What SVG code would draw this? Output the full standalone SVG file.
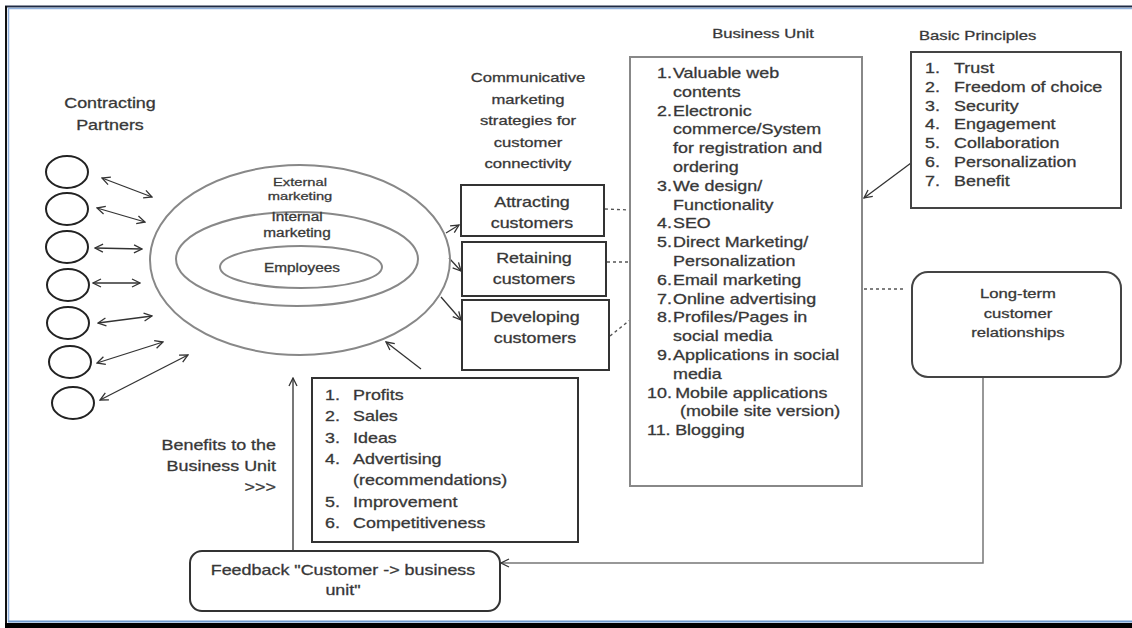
<svg xmlns="http://www.w3.org/2000/svg" width="1132" height="628" viewBox="0 0 1132 628">
<defs>
<marker id="ah" viewBox="0 0 10 10" refX="9" refY="5" markerWidth="10" markerHeight="10" markerUnits="userSpaceOnUse" orient="auto-start-reverse">
<path d="M1,1 L9,5 L1,9" fill="none" stroke="#333" stroke-width="1.3"/>
</marker>
<style>
text{font-family:"Liberation Sans",Arial,sans-serif;fill:#333;stroke:#444;stroke-width:0.3;}
.t14{font-size:14px;}
.t13{font-size:13px;}
.t12{font-size:12px;}
.t11{font-size:11.5px;}
.mid{text-anchor:middle;}
.end{text-anchor:end;}
.box{fill:#fff;stroke:#333;stroke-width:2;}
.gbox{fill:#fff;stroke:#888;stroke-width:2;}
.ell{fill:none;stroke:#888;stroke-width:2;}
.circ{fill:#fff;stroke:#222;stroke-width:2;}
.arr{fill:none;stroke:#333;stroke-width:1.3;marker-end:url(#ah);}
.darr{fill:none;stroke:#333;stroke-width:1.3;marker-start:url(#ah);marker-end:url(#ah);}
.garr{fill:none;stroke:#777;stroke-width:2;marker-end:url(#ah);}
.dash{fill:none;stroke:#555;stroke-width:1.3;stroke-dasharray:3 3;}
</style>
</defs>
<rect x="0" y="0" width="1132" height="628" fill="#fff"/>
<g id="frame">
<line x1="5" y1="6.5" x2="1132" y2="6.5" stroke="#1f2a44" stroke-width="2"/>
<line x1="8" y1="8.5" x2="1132" y2="8.5" stroke="#8fb0dc" stroke-width="1.5"/>
<line x1="6" y1="6" x2="6" y2="628" stroke="#111" stroke-width="2"/>
<line x1="8.5" y1="8" x2="8.5" y2="622" stroke="#8fb0dc" stroke-width="1.5"/>
<rect x="5" y="623" width="1127" height="5" fill="#000"/>
<line x1="8" y1="621.5" x2="1132" y2="621.5" stroke="#6f9bd0" stroke-width="2"/>
</g>
<g id="connectors">
<line class="darr" x1="102" y1="178" x2="152" y2="197"/>
<line class="darr" x1="97" y1="208" x2="145" y2="222"/>
<line class="darr" x1="95" y1="248" x2="142" y2="249"/>
<line class="darr" x1="93" y1="283" x2="140" y2="283"/>
<line class="darr" x1="98" y1="323" x2="152" y2="316"/>
<line class="darr" x1="97" y1="363" x2="163" y2="342"/>
<line class="darr" x1="100" y1="400" x2="188" y2="355"/>
<line class="arr" x1="446" y1="233" x2="459" y2="225"/>
<line class="arr" x1="449" y1="258" x2="461" y2="271"/>
<line class="arr" x1="441" y1="297" x2="461" y2="320"/>
<line class="dash" x1="605" y1="209" x2="630" y2="210"/>
<line class="dash" x1="607" y1="262" x2="630" y2="262"/>
<line class="dash" x1="610" y1="336" x2="630" y2="320"/>
<line class="dash" x1="864" y1="289" x2="903" y2="289"/>
<line class="arr" x1="911" y1="163" x2="864" y2="198"/>
<line class="arr" x1="421" y1="369" x2="386" y2="342"/>
<line class="garr" x1="293" y1="551" x2="293" y2="378"/>
<polyline class="garr" points="983,377 983,563 501,563" style="stroke-width:1.5"/>
</g>
<g id="partners-label">
<text class="t14 mid" transform="translate(110,108) scale(1.28,1)">Contracting</text>
<text class="t14 mid" transform="translate(110,130) scale(1.28,1)">Partners</text>
</g>
<g id="partners">
<ellipse class="circ" cx="67" cy="172" rx="21" ry="16"/>
<ellipse class="circ" cx="67" cy="209" rx="21" ry="16"/>
<ellipse class="circ" cx="67" cy="247" rx="21" ry="16"/>
<ellipse class="circ" cx="68" cy="285" rx="21" ry="16"/>
<ellipse class="circ" cx="68" cy="323" rx="21" ry="16"/>
<ellipse class="circ" cx="70" cy="362" rx="21" ry="16"/>
<ellipse class="circ" cx="73" cy="403" rx="21" ry="16"/>
</g>
<g id="external-marketing">
<ellipse class="ell" cx="300" cy="260" rx="150" ry="95"/>
<text class="t11 mid" transform="translate(300,186) scale(1.28,1)">External</text>
<text class="t11 mid" transform="translate(300,200) scale(1.28,1)">marketing</text>
</g>
<g id="internal-marketing">
<ellipse class="ell" cx="297" cy="259" rx="121" ry="47"/>
<text class="t12 mid" transform="translate(297,221) scale(1.28,1)">Internal</text>
<text class="t12 mid" transform="translate(297,237) scale(1.28,1)">marketing</text>
</g>
<g id="employees">
<ellipse class="ell" cx="301" cy="267" rx="81" ry="21"/>
<text class="t12 mid" transform="translate(302,272) scale(1.28,1)">Employees</text>
</g>
<g id="strategies-label">
<text class="t13 mid" transform="translate(528,82) scale(1.28,1)">Communicative</text>
<text class="t13 mid" transform="translate(528,104) scale(1.28,1)">marketing</text>
<text class="t13 mid" transform="translate(528,125) scale(1.28,1)">strategies for</text>
<text class="t13 mid" transform="translate(528,147) scale(1.28,1)">customer</text>
<text class="t13 mid" transform="translate(528,168) scale(1.28,1)">connectivity</text>
</g>
<g id="attracting">
<rect class="box" x="461" y="185" width="143" height="51"/>
<text class="t14 mid" transform="translate(532,207) scale(1.28,1)">Attracting</text>
<text class="t14 mid" transform="translate(532,228) scale(1.28,1)">customers</text>
</g>
<g id="retaining">
<rect class="box" x="462" y="242" width="144" height="54"/>
<text class="t14 mid" transform="translate(534,263) scale(1.28,1)">Retaining</text>
<text class="t14 mid" transform="translate(534,284) scale(1.28,1)">customers</text>
</g>
<g id="developing">
<rect class="box" x="462" y="300" width="147" height="70"/>
<text class="t14 mid" transform="translate(535,322) scale(1.28,1)">Developing</text>
<text class="t14 mid" transform="translate(535,343) scale(1.28,1)">customers</text>
</g>
<g id="business-unit">
<text class="t13 mid" transform="translate(763,38) scale(1.28,1)">Business Unit</text>
<rect class="gbox" x="630" y="57" width="232" height="429"/>
<text class="t14" transform="translate(657,78) scale(1.28,1)">1.<tspan x="12.5">Valuable web</tspan></text>
<text class="t14" transform="translate(673,96.8) scale(1.28,1)">contents</text>
<text class="t14" transform="translate(657,115.6) scale(1.28,1)">2.<tspan x="12.5">Electronic</tspan></text>
<text class="t14" transform="translate(673,134.4) scale(1.28,1)">commerce/System</text>
<text class="t14" transform="translate(673,153.2) scale(1.28,1)">for registration and</text>
<text class="t14" transform="translate(673,172) scale(1.28,1)">ordering</text>
<text class="t14" transform="translate(657,190.8) scale(1.28,1)">3.<tspan x="12.5">We design/</tspan></text>
<text class="t14" transform="translate(673,209.6) scale(1.28,1)">Functionality</text>
<text class="t14" transform="translate(657,228.4) scale(1.28,1)">4.<tspan x="12.5">SEO</tspan></text>
<text class="t14" transform="translate(657,247.2) scale(1.28,1)">5.<tspan x="12.5">Direct Marketing/</tspan></text>
<text class="t14" transform="translate(673,266) scale(1.28,1)">Personalization</text>
<text class="t14" transform="translate(657,284.8) scale(1.28,1)">6.<tspan x="12.5">Email marketing</tspan></text>
<text class="t14" transform="translate(657,303.6) scale(1.28,1)">7.<tspan x="12.5">Online advertising</tspan></text>
<text class="t14" transform="translate(657,322.4) scale(1.28,1)">8.<tspan x="12.5">Profiles/Pages in</tspan></text>
<text class="t14" transform="translate(673,341.2) scale(1.28,1)">social media</text>
<text class="t14" transform="translate(657,360) scale(1.28,1)">9.<tspan x="12.5">Applications in social</tspan></text>
<text class="t14" transform="translate(673,378.8) scale(1.28,1)">media</text>
<text class="t14" transform="translate(647,397.6) scale(1.28,1)">10.<tspan x="22">Mobile applications</tspan></text>
<text class="t14" transform="translate(680,416.4) scale(1.28,1)">(mobile site version)</text>
<text class="t14" transform="translate(647,435.2) scale(1.28,1)">11.<tspan x="22">Blogging</tspan></text>
</g>
<g id="basic-principles">
<text class="t13" transform="translate(919,40) scale(1.28,1)">Basic Principles</text>
<rect class="box" x="911" y="52" width="210" height="156" style="stroke:#444"/>
<text class="t14" transform="translate(925,73) scale(1.28,1)">1.<tspan x="22.7">Trust</tspan></text>
<text class="t14" transform="translate(925,91.8) scale(1.28,1)">2.<tspan x="22.7">Freedom of choice</tspan></text>
<text class="t14" transform="translate(925,110.6) scale(1.28,1)">3.<tspan x="22.7">Security</tspan></text>
<text class="t14" transform="translate(925,129.4) scale(1.28,1)">4.<tspan x="22.7">Engagement</tspan></text>
<text class="t14" transform="translate(925,148.2) scale(1.28,1)">5.<tspan x="22.7">Collaboration</tspan></text>
<text class="t14" transform="translate(925,167) scale(1.28,1)">6.<tspan x="22.7">Personalization</tspan></text>
<text class="t14" transform="translate(925,185.8) scale(1.28,1)">7.<tspan x="22.7">Benefit</tspan></text>
</g>
<g id="long-term">
<rect class="box" x="912" y="272" width="209" height="105" rx="16" style="stroke:#444"/>
<text class="t13 mid" transform="translate(1018,298) scale(1.28,1)">Long-term</text>
<text class="t13 mid" transform="translate(1018,318) scale(1.28,1)">customer</text>
<text class="t13 mid" transform="translate(1018,337) scale(1.28,1)">relationships</text>
</g>
<g id="benefits-label">
<text class="t14 end" transform="translate(276,450) scale(1.28,1)">Benefits to the</text>
<text class="t14 end" transform="translate(276,471) scale(1.28,1)">Business Unit</text>
<text class="t14 end" transform="translate(276,492) scale(1.28,1)">&gt;&gt;&gt;</text>
</g>
<g id="benefits">
<rect class="box" x="312" y="378" width="266" height="164"/>
<text class="t14" transform="translate(325,400) scale(1.28,1)">1.<tspan x="21.9">Profits</tspan></text>
<text class="t14" transform="translate(325,421.3) scale(1.28,1)">2.<tspan x="21.9">Sales</tspan></text>
<text class="t14" transform="translate(325,442.6) scale(1.28,1)">3.<tspan x="21.9">Ideas</tspan></text>
<text class="t14" transform="translate(325,464) scale(1.28,1)">4.<tspan x="21.9">Advertising</tspan></text>
<text class="t14" transform="translate(353,485.3) scale(1.28,1)">(recommendations)</text>
<text class="t14" transform="translate(325,506.6) scale(1.28,1)">5.<tspan x="21.9">Improvement</tspan></text>
<text class="t14" transform="translate(325,528) scale(1.28,1)">6.<tspan x="21.9">Competitiveness</tspan></text>
</g>
<g id="feedback">
<rect class="box" x="190" y="551" width="310" height="60" rx="12"/>
<text class="t14 mid" transform="translate(343,575) scale(1.28,1)">Feedback "Customer -&gt; business</text>
<text class="t14 mid" transform="translate(343,595) scale(1.28,1)">unit"</text>
</g>
</svg>
